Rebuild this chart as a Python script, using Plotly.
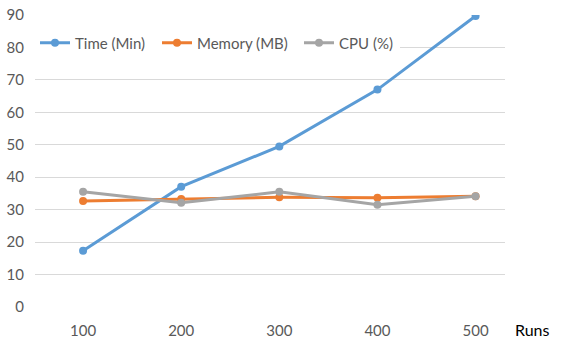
import plotly.graph_objects as go

runs = ["100", "200", "300", "400", "500"]
time_min = [17.3, 37.1, 49.5, 67.0, 89.7]
memory_mb = [32.7, 33.3, 33.8, 33.7, 34.1]
cpu_pct = [35.5, 32.1, 35.5, 31.5, 34.1]
y_ticks = [0, 10, 20, 30, 40, 50, 60, 70, 80, 90]

font_name = "Lato"
grey_text = "#595959"

fig = go.Figure()
fig.add_trace(go.Scatter(x=runs, y=time_min, mode="lines+markers", name="Time (Min)", legendwidth=77,
                         line=dict(color="#5B9BD5", width=3), marker=dict(size=8, color="#5B9BD5")))
fig.add_trace(go.Scatter(x=runs, y=memory_mb, mode="lines+markers", name="Memory (MB)", legendwidth=97,
                         line=dict(color="#ED7D31", width=3), marker=dict(size=8, color="#ED7D31")))
fig.add_trace(go.Scatter(x=runs, y=cpu_pct, mode="lines+markers", name="CPU (%)", legendwidth=56,
                         line=dict(color="#A5A5A5", width=3), marker=dict(size=8, color="#A5A5A5")))

fig.update_layout(
    width=564, height=346,
    margin=dict(l=35, r=59, t=15, b=39, autoexpand=False),
    paper_bgcolor="white", plot_bgcolor="white",
    font=dict(family=font_name, size=15, color=grey_text),
    legend=dict(orientation="h", x=0, xanchor="left", y=0.904, yanchor="middle",
                bgcolor="white", font=dict(size=15, color=grey_text), itemclick=False),
    showlegend=True,
)
fig.update_xaxes(type="category", range=[-0.49, 4.3], showgrid=False, showline=False,
                 zeroline=False, ticks="", ticklabelstandoff=13, automargin=False,
                 tickfont=dict(size=15, color=grey_text))
fig.update_yaxes(range=[0, 90], tickvals=y_ticks, showgrid=True, gridcolor="#D9D9D9",
                 gridwidth=1, zeroline=False, showline=False, ticks="", automargin=False,
                 ticklabelstandoff=10, tickfont=dict(size=15, color=grey_text))

fig.add_annotation(text="Runs", xref="paper", yref="paper", x=1.10, y=-0.116,
                   showarrow=False, font=dict(size=16, color="#000000", family=font_name))

# page body has an 8px default margin, drop it so the chart sits at 0,0
fig.write_html("out.html", config={"displayModeBar": False},
               post_script="document.body.style.margin='0';")
